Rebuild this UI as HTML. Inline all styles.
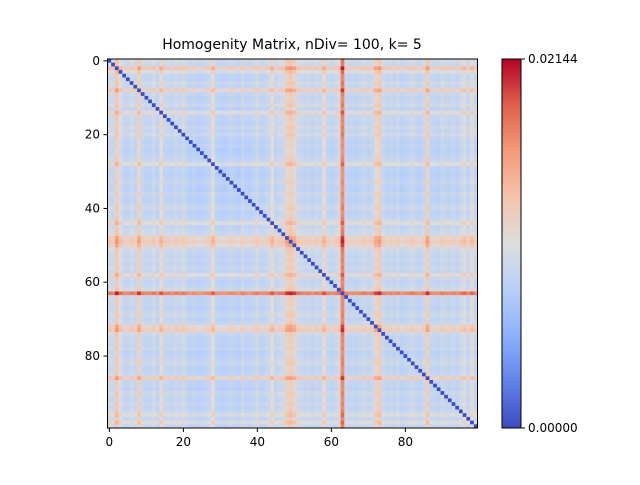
<!DOCTYPE html>
<html><head><meta charset="utf-8"><style>
body{margin:0;background:#fff;font-family:"Liberation Sans","DejaVu Sans",sans-serif}
svg text{font-family:"DejaVu Sans","Liberation Sans",sans-serif;font-size:12px;fill:#000}
</style></head><body>
<svg id="c" width="640" height="480" xmlns="http://www.w3.org/2000/svg">
<defs><linearGradient id="cw" x1="0" y1="1" x2="0" y2="0">
<stop offset="0" stop-color="rgb(59,76,192)"/><stop offset="0.125" stop-color="rgb(98,130,234)"/>
<stop offset="0.25" stop-color="rgb(141,176,254)"/><stop offset="0.375" stop-color="rgb(184,208,249)"/>
<stop offset="0.5" stop-color="rgb(221,221,221)"/><stop offset="0.625" stop-color="rgb(245,196,173)"/>
<stop offset="0.75" stop-color="rgb(244,154,123)"/><stop offset="0.875" stop-color="rgb(222,96,77)"/>
<stop offset="1" stop-color="rgb(180,4,38)"/></linearGradient></defs>
<text x="292" y="49" text-anchor="middle" style="font-size:14px">Homogenity Matrix, nDiv= 100, k= 5</text>
<g id="cells"></g>
<rect x="107.5" y="59" width="370" height="369" fill="none" stroke="#000" stroke-width="1"/>
<g id="ticks"></g>
<rect x="502" y="59" width="19" height="369" fill="url(#cw)" stroke="#000" stroke-width="1"/>
<line x1="521" y1="59" x2="525" y2="59" stroke="#000"/><line x1="521" y1="428" x2="525" y2="428" stroke="#000"/>
<text x="528" y="63">0.02144</text>
<text x="528" y="432">0.00000</text>
</svg>
<script>
// per-index homogeneity weights read from row/column banding
const weights=[0,-0.3,1.6,0.3,-0.5,-0.6,-0.1,-0.4,1.2,-0.3,-0.6,-0.5,-0.1,-0.7,0.7,-0.4,-0.4,-0.6,-0.2,-0.5,-0.1,-0.6,-0.8,-0.6,-0.9,-0.8,-0.6,-0.4,0.5,-0.7,-0.8,-0.9,-0.7,-0.5,-0.8,-0.9,-0.4,-0.7,-0.8,-0.5,-0.2,-0.7,-0.6,-0.3,0.6,-0.5,-0.2,-0.1,1.2,1.5,1.0,-0.1,-0.3,-0.5,-0.3,-0.6,-0.2,-0.5,0.7,-0.3,-0.6,-0.4,-0.1,3.9,-0.4,-0.6,-0.5,-0.7,-0.4,-0.2,-0.6,-0.3,1.0,1.4,-0.2,-0.6,-0.4,-0.7,-0.3,-0.8,-0.6,-0.4,-0.2,-0.6,-0.7,-0.3,1.3,-0.5,-0.6,-0.7,-0.2,-0.5,-0.6,-0.3,-0.7,-0.2,0.3,-0.5,0.4,-0.4];
const xTicks=[0,20,40,60,80];
const yTicks=[0,20,40,60,80];
const vmax=0.02144;
const stops=[[59,76,192],[98,130,234],[141,176,254],[184,208,249],[221,221,221],[245,196,173],[244,154,123],[222,96,77],[180,4,38]];
function cmap(t){t=Math.max(0,Math.min(1,t));const p=t*8,i=Math.min(7,Math.floor(p)),f=p-i;const a=stops[i],b=stops[i+1];
return `rgb(${Math.round(a[0]+(b[0]-a[0])*f)},${Math.round(a[1]+(b[1]-a[1])*f)},${Math.round(a[2]+(b[2]-a[2])*f)})`;}
const N=weights.length,X0=107.5,Y0=59,W=370,H=369,cw=W/N,ch=H/N;
const xs=i=>X0+i*cw, ys=i=>Y0+i*ch;
const NS="http://www.w3.org/2000/svg";
const g=document.getElementById('cells');
for(let i=0;i<N;i++)for(let j=0;j<N;j++){
  const v=i===j?0:0.0108+0.0018*(weights[i]+weights[j]);
  const r=document.createElementNS(NS,'rect');
  r.setAttribute('x',xs(j));r.setAttribute('y',ys(i));
  r.setAttribute('width',cw+0.3);r.setAttribute('height',ch+0.3);
  r.setAttribute('fill',cmap(v/vmax));
  
  
  g.appendChild(r);
}
const t=document.getElementById('ticks');
xTicks.forEach(v=>{const x=xs(v)+cw/2;
  const l=document.createElementNS(NS,'line');l.setAttribute('x1',x);l.setAttribute('x2',x);l.setAttribute('y1',428);l.setAttribute('y2',432);l.setAttribute('stroke','#000');t.appendChild(l);
  const tx=document.createElementNS(NS,'text');tx.setAttribute('x',x);tx.setAttribute('y',446);tx.setAttribute('text-anchor','middle');tx.textContent=v;
  
  
  t.appendChild(tx);});
yTicks.forEach(v=>{const y=ys(v)+ch/2;
  const l=document.createElementNS(NS,'line');l.setAttribute('x1',103.5);l.setAttribute('x2',107.5);l.setAttribute('y1',y);l.setAttribute('y2',y);l.setAttribute('stroke','#000');t.appendChild(l);
  const tx=document.createElementNS(NS,'text');tx.setAttribute('x',100);tx.setAttribute('y',y+4);tx.setAttribute('text-anchor','end');tx.textContent=v;
  
  
  t.appendChild(tx);});
</script>
</body></html>
